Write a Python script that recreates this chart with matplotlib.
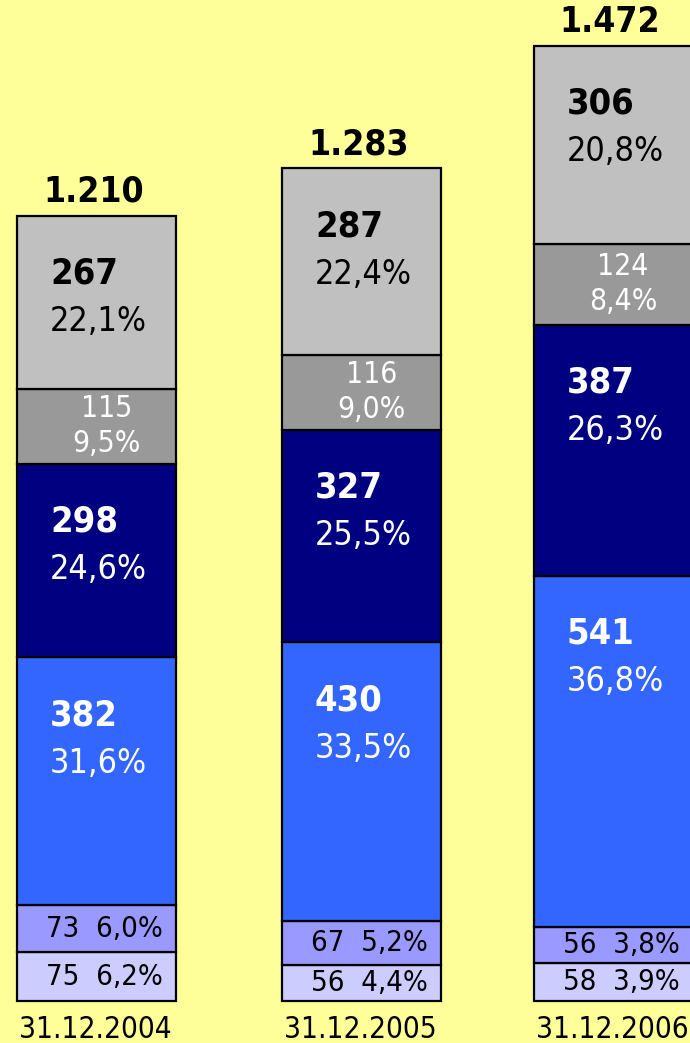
import numpy as np
import matplotlib
matplotlib.use("Agg")
from matplotlib import pyplot as plt

dates = ["31.12.2004", "31.12.2005", "31.12.2006"]

# stacked segments, bottom to top
seg_lavender = [75, 56, 58]
seg_periwinkle = [73, 67, 56]
seg_blue = [382, 430, 541]
seg_navy = [298, 327, 387]
seg_gray = [115, 116, 124]
seg_silver = [267, 287, 306]

segments = [seg_lavender, seg_periwinkle, seg_blue, seg_navy, seg_gray, seg_silver]
colors = ["#CCCCFF", "#9999FF", "#3366FF", "#000080", "#999999", "#C0C0C0"]
# label style per segment: "row" = one line at the bottom, "small" = gray box, "big" = value + percent
styles = ["row", "row", "big", "big", "small", "big"]
text_colors = ["black", "black", "white", "white", "white", "black"]

plt.rcParams["font.family"] = ["DejaVu Sans"]
STRETCH = "condensed"

xpos = np.array([0.0, 1.0, 1.95])
width = 0.6

fig = plt.figure(figsize=(6.9, 10.43), dpi=100)
fig.patch.set_facecolor("#FFFF99")
ax = fig.add_axes([0, 0, 1, 1])
ax.set_facecolor("#FFFF99")

# pixel -> data scales
py = 1.541   # data units per pixel (vertical)
px = 1 / 265  # data units per pixel (horizontal)

ax.set_ylim(-42 * py, 1001 * py)
ax.set_xlim(-96.5 * px, 2.24)
ax.axis("off")


def pct(v, t):
    return f"{100 * v / t:.1f}".replace(".", ",") + "%"


totals = np.sum(segments, axis=0)
bottom = np.zeros(3)
for seg, col, style, tcol in zip(segments, colors, styles, text_colors):
    seg = np.array(seg)
    ax.bar(xpos, seg, width, bottom=bottom, color=col, edgecolor="black",
           linewidth=1.6, zorder=2)
    for i in range(3):
        top = bottom[i] + seg[i]
        mid = bottom[i] + seg[i] / 2
        p = pct(seg[i], totals[i])
        if style == "big":
            xl = xpos[i] - width / 2 + 33 * px
            ax.text(xl, top - 58 * py, str(seg[i]), color=tcol, fontsize=26,
                    fontweight="bold", ha="left", va="center", fontstretch=STRETCH, zorder=3)
            ax.text(xl, top - 106 * py, p, color=tcol, fontsize=24.5,
                    ha="left", va="center", fontstretch=STRETCH, zorder=3)
        elif style == "small":
            xc = xpos[i] + 10 * px
            ax.text(xc, mid + 18 * py, str(seg[i]), color=tcol, fontsize=21.5,
                    ha="center", va="center", fontstretch=STRETCH, zorder=3)
            ax.text(xc, mid - 17 * py, p, color=tcol, fontsize=21.5,
                    ha="center", va="center", fontstretch=STRETCH, zorder=3)
        else:
            ax.text(xpos[i] + 8 * px, mid, f"{seg[i]}  {p}", color=tcol, fontsize=21,
                    ha="center", va="center", fontstretch=STRETCH, zorder=3)
    bottom += seg

for i in range(3):
    ax.text(xpos[i] - 3 * px, totals[i] + 14 * py, f"{totals[i]:,}".replace(",", "."),
            fontsize=25.5, fontweight="bold", ha="center", va="baseline",
            fontstretch=STRETCH)
    ax.text(xpos[i] - 1 * px, -28 * py, dates[i], fontsize=21.3, ha="center", va="center",
            fontstretch=STRETCH)

fig.savefig("out.png", dpi=100, facecolor=fig.get_facecolor())
